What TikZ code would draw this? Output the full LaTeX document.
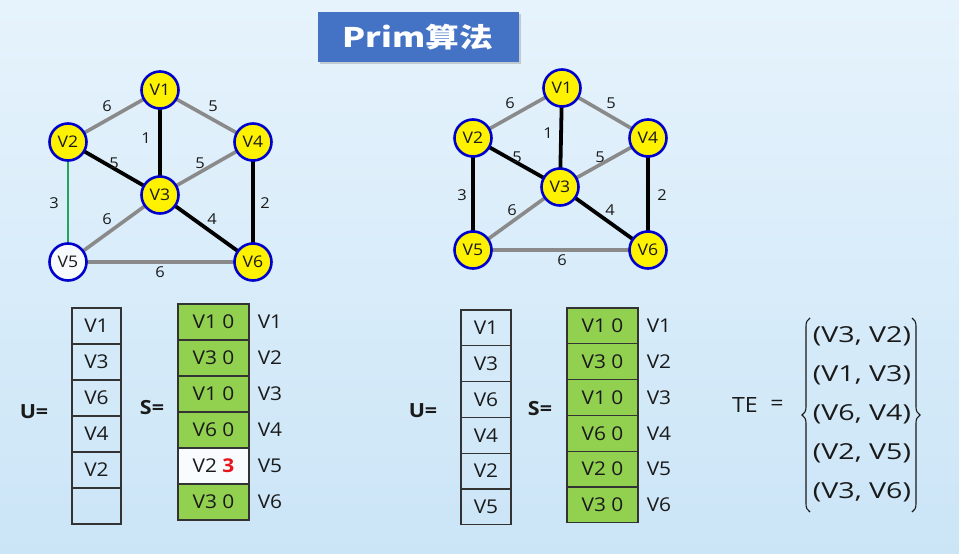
\documentclass[tikz,border=0pt]{standalone}
\usepackage{fontspec}
\setmainfont{Open Sans}[FakeStretch=1.1]
\newfontfamily\tupfont{Open Sans}[FakeStretch=1.3]
\newfontfamily\cjk{Noto Sans CJK SC}[FakeStretch=1.25]
\usetikzlibrary{decorations.pathreplacing,shadows}
\pgfdeclarelayer{back}
\pgfdeclarelayer{edges}
\pgfsetlayers{back,edges,main}
\definecolor{bgtop}{HTML}{E6F3FC}
\definecolor{bgbot}{HTML}{CBE5F7}
\definecolor{titleblue}{HTML}{4472C4}
\definecolor{vblue}{HTML}{0000CC}
\definecolor{egray}{HTML}{8A8A8A}
\definecolor{egreen}{HTML}{22A55A}
\definecolor{cgreen}{HTML}{92D050}
\definecolor{cborder}{HTML}{333333}
\definecolor{txt}{HTML}{1A1A1A}
\definecolor{red3}{HTML}{E8141B}
\tikzset{
  vert/.style={circle,draw=vblue,line width=2.6pt,fill=yellow,minimum size=37pt,inner sep=0pt,
    font=\fontsize{16}{18}\selectfont,text=txt},
  vertw/.style={vert,fill=white!70!bgtop},
  tree/.style={line width=3.8pt,black},
  nontree/.style={line width=3.6pt,egray},
  cand/.style={line width=2.8pt,egreen},
  wlab/.style={font=\fontsize{15}{17}\selectfont,text=txt,inner sep=0pt},
  ucell/.style={rectangle,draw=cborder,line width=1.3pt,minimum width=49pt,minimum height=36pt,
    inner sep=0pt,font=\fontsize{19}{21}\selectfont,text=txt},
  scell/.style={ucell,fill=cgreen,minimum width=71pt},
  scellw/.style={ucell,fill=white!75!bgtop,minimum width=71pt},
  rlab/.style={font=\fontsize{19}{21}\selectfont,text=txt,inner sep=0pt},
  eqlab/.style={font=\fontsize{19.5}{21}\selectfont\bfseries,text=txt,inner sep=0pt},
  tup/.style={font=\tupfont\fontsize{22}{25}\selectfont,text=txt,inner sep=0pt},
  telab/.style={font=\fontsize{21}{24}\selectfont,text=txt,inner sep=0pt},
  bracestyle/.style={line width=1.1pt,txt,decorate,decoration={brace,amplitude=8pt}},
}
\begin{document}
\begin{tikzpicture}[x=1pt,y=-1pt]
\begin{pgfonlayer}{back}
\shade[top color=bgtop,bottom color=bgbot] (0,0) rectangle (959,554);
\end{pgfonlayer}
\useasboundingbox (0,0) rectangle (959,554);

% title
\node[rectangle,fill=titleblue,minimum width=201pt,minimum height=50pt,inner sep=0pt,
  drop shadow={shadow xshift=2pt,shadow yshift=-2pt,opacity=0.35},
  font=\cjk\bfseries\fontsize{27}{29}\selectfont,text=white] (title) at (418,37) {Prim算法};

% ---------- left graph ----------
\node[vert]  (a1) at (160,90)  {V1};
\node[vert]  (a2) at (68,142)  {V2};
\node[vert]  (a4) at (253,142) {V4};
\node[vert]  (a3) at (160,195) {V3};
\node[vertw] (a5) at (68,262)  {V5};
\node[vert]  (a6) at (253,262) {V6};
\begin{pgfonlayer}{edges}
\draw[nontree] (a1.center) -- (a2.center);
\draw[nontree] (a1.center) -- (a4.center);
\draw[nontree] (a3.center) -- (a4.center);
\draw[nontree] (a3.center) -- (a5.center);
\draw[nontree] (a5.center) -- (a6.center);
\draw[tree] (a1.center) -- (a3.center);
\draw[tree] (a2.center) -- (a3.center);
\draw[tree] (a3.center) -- (a6.center);
\draw[tree] (a4.center) -- (a6.center);
\draw[cand] (a2.center) -- (a5.center);
\end{pgfonlayer}
\node[wlab] (la12) at (107,106) {6};
\node[wlab] (la14) at (213,106) {5};
\node[wlab] (la13) at (146,138) {1};
\node[wlab] (la23) at (114,163) {5};
\node[wlab] (la34) at (200,163) {5};
\node[wlab] (la25) at (54,203)  {3};
\node[wlab] (la46) at (265,203) {2};
\node[wlab] (la35) at (107,219) {6};
\node[wlab] (la36) at (212,219) {4};
\node[wlab] (la56) at (160,272) {6};

% ---------- right graph ----------
\node[vert] (b1) at (562,88)  {V1};
\node[vert] (b2) at (473,138) {V2};
\node[vert] (b4) at (648,138) {V4};
\node[vert] (b3) at (560,187) {V3};
\node[vert] (b5) at (473,250) {V5};
\node[vert] (b6) at (648,250) {V6};
\begin{pgfonlayer}{edges}
\draw[nontree] (b1.center) -- (b2.center);
\draw[nontree] (b1.center) -- (b4.center);
\draw[nontree] (b3.center) -- (b4.center);
\draw[nontree] (b3.center) -- (b5.center);
\draw[nontree] (b5.center) -- (b6.center);
\draw[tree] (b1.center) -- (b3.center);
\draw[tree] (b2.center) -- (b3.center);
\draw[tree] (b2.center) -- (b5.center);
\draw[tree] (b3.center) -- (b6.center);
\draw[tree] (b4.center) -- (b6.center);
\end{pgfonlayer}
\node[wlab] (lb12) at (510,103) {6};
\node[wlab] (lb14) at (611,103) {5};
\node[wlab] (lb13) at (548,133) {1};
\node[wlab] (lb23) at (517,157) {5};
\node[wlab] (lb34) at (600,157) {5};
\node[wlab] (lb25) at (462,195) {3};
\node[wlab] (lb46) at (662,195) {2};
\node[wlab] (lb35) at (512,210) {6};
\node[wlab] (lb36) at (610,210) {4};
\node[wlab] (lb56) at (562,260) {6};

% ---------- left tables ----------
\node[eqlab] (ueqL) at (34,412) {U=};
\node[eqlab] (seqL) at (152,408) {S=};
\foreach \t [count=\i] in {V1,V3,V6,V4,V2,{}} {
  \node[ucell] (uL\i) at (96.5,{308+18+36*(\i-1)}) {\t};
}
\foreach \t [count=\i] in {V1 0,V3 0,V1 0,V6 0,X,V3 0} {
  \ifnum\i=5
    \node[scellw] (sL\i) at (213.5,{304+18+36*(\i-1)}) {V2 \textcolor{red3}{\bfseries 3}};
  \else
    \node[scell] (sL\i) at (213.5,{304+18+36*(\i-1)}) {\t};
  \fi
  \node[rlab] (rL\i) at (270,{304+18+36*(\i-1)}) {V\i};
}

% ---------- right tables ----------
\node[eqlab] (ueqR) at (423,411) {U=};
\node[eqlab] (seqR) at (540,409) {S=};
\foreach \t [count=\i] in {V1,V3,V6,V4,V2,V5} {
  \node[ucell,minimum width=50pt,minimum height=35.8pt] (uR\i) at (486,{310+17.9+35.8*(\i-1)}) {\t};
}
\foreach \t [count=\i] in {V1 0,V3 0,V1 0,V6 0,V2 0,V3 0} {
  \node[scell,minimum height=35.8pt] (sR\i) at (602.5,{308+17.9+35.8*(\i-1)}) {\t};
  \node[rlab] (rR\i) at (659,{308+17.9+35.8*(\i-1)}) {V\i};
}

% ---------- TE ----------
\node[telab] (te) at (745,405) {TE};
\node[telab] (teq) at (777,405) {=};
\node[tup] (t1) at (862,336) {(V3, V2)};
\node[tup] (t2) at (862,375) {(V1, V3)};
\node[tup] (t3) at (862,414) {(V6, V4)};
\node[tup] (t4) at (862,453) {(V2, V5)};
\node[tup] (t5) at (862,492) {(V3, V6)};
\coordinate (bl1) at (810,512);
\coordinate (bl2) at (810,318);
\coordinate (br1) at (912,318);
\coordinate (br2) at (912,512);
\draw[bracestyle] (bl1) -- (bl2);
\draw[bracestyle] (br1) -- (br2);
\end{tikzpicture}
\end{document}
